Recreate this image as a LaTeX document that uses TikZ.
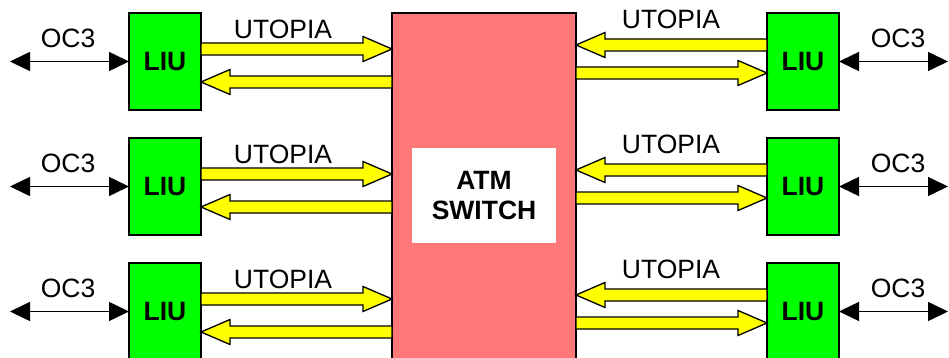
\documentclass[tikz,border=0pt]{standalone}
\usepackage{fontspec}
\setmainfont{Liberation Sans}
\usetikzlibrary{arrows.meta,calc}
\definecolor{liugreen}{RGB}{0,255,0}
\definecolor{swpink}{RGB}{255,119,119}
\definecolor{arryellow}{RGB}{255,255,0}
\newcommand\blockarr[3]{%
  \draw[yarrow] ($(#1)+(0,-6)$) -- ($(#2)+(#3,-6)$) -- ($(#2)+(#3,-12.5)$) -- (#2)
    -- ($(#2)+(#3,12.5)$) -- ($(#2)+(#3,6)$) -- ($(#1)+(0,6)$) -- cycle;}
\begin{document}
\begin{tikzpicture}[x=1pt,y=-1pt,
  liu/.style={draw=black,line width=1.6pt,fill=liugreen,minimum width=72pt,minimum height=97pt,
    inner sep=0pt,outer sep=0pt,font=\fontsize{26.5}{30}\selectfont\bfseries},
  switchbox/.style={draw=black,line width=1.6pt,fill=swpink,minimum width=184pt,minimum height=387pt,
    inner sep=0pt,outer sep=0pt},
  whitebox/.style={fill=white,minimum width=144pt,minimum height=95pt,inner sep=0pt,
    align=center,font=\fontsize{26.5}{30.5}\selectfont\bfseries},
  lab/.style={inner sep=0pt,font=\fontsize{26.5}{30}\selectfont},
  yarrow/.style={draw=black,line width=1.3pt,fill=arryellow,line join=miter},
  oc/.style={line width=1.5pt,{Triangle[length=20pt,width=19pt]}-{Triangle[length=20pt,width=19pt]}}]
\useasboundingbox (0,0) rectangle (949,358);
\clip (0,0) rectangle (949,358);
\node[switchbox] (S) at (484,206.5) {};
\node[whitebox] (W) at (484,195.5) {ATM\\SWITCH};
\foreach \r/\yc in {1/61.5,2/186.5,3/311.5}{
  \node[liu] (L\r) at (165,\yc) {LIU};
  \node[liu] (R\r) at (803,\yc) {LIU};
  \coordinate (lo\r) at (10,\yc);
  \coordinate (ro\r) at (948,\yc);
  \draw[oc] (lo\r) -- (L\r.west);
  \draw[oc] (R\r.east) -- (ro\r);
  \node[lab] (loc\r) at (68,\yc-23.5) {OC3};
  \node[lab] (roc\r) at (898,\yc-23.5) {OC3};
  \node[lab] (lut\r) at (283,\yc-32.5) {UTOPIA};
  \node[lab] (rut\r) at (671,\yc-42.5) {UTOPIA};
  % left side
  \coordinate (la\r) at ($(L\r.east)+(0,-12.5)$);
  \coordinate (lat\r) at ($(S.west |- L\r.east)+(0,-12.5)$);
  \blockarr{la\r}{lat\r}{-29}
  \coordinate (lb\r) at ($(S.west |- L\r.east)+(0,20.5)$);
  \coordinate (lbt\r) at ($(L\r.east)+(0,20.5)$);
  \blockarr{lb\r}{lbt\r}{29}
  % right side
  \coordinate (ra\r) at ($(R\r.west)+(0,-16.5)$);
  \coordinate (rat\r) at ($(S.east |- R\r.west)+(0,-16.5)$);
  \blockarr{ra\r}{rat\r}{29}
  \coordinate (rb\r) at ($(S.east |- R\r.west)+(0,11.5)$);
  \coordinate (rbt\r) at ($(R\r.west)+(0,11.5)$);
  \blockarr{rb\r}{rbt\r}{-29}
}
\end{tikzpicture}
\end{document}
